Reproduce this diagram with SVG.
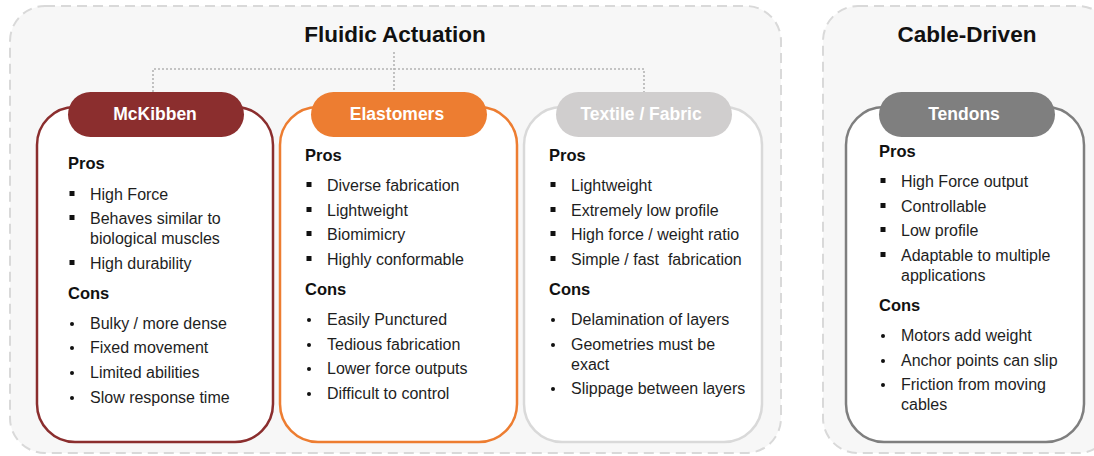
<svg xmlns="http://www.w3.org/2000/svg" width="1094" height="456" viewBox="0 0 1094 456">
  <style>
    .panel { fill: #f7f7f7; stroke: #d9d9d9; stroke-width: 2; stroke-dasharray: 10 6; }
    .title { font-family: "Liberation Sans", Arial, sans-serif; font-weight: bold; font-size: 22.5px; fill: #111; text-anchor: middle; }
    .card { fill: #ffffff; stroke-width: 2.5; }
    .pill-text { font-family: "Liberation Sans", Arial, sans-serif; font-weight: bold; font-size: 17.5px; fill: #ffffff; text-anchor: middle; }
    .head { font-family: "Liberation Sans", Arial, sans-serif; font-weight: bold; font-size: 16.5px; fill: #111; }
    .item { font-family: "Liberation Sans", Arial, sans-serif; font-size: 16px; fill: #1e1e1e; }
    .sq { fill: #111; }
    .dot { fill: #111; }
    .link { fill: none; stroke: #b4b4b4; stroke-width: 1.6; stroke-dasharray: 2 2; }
  </style>

  <!-- group panels -->
  <g id="fluidic-actuation">
    <rect class="panel" x="10" y="6" width="771" height="447" rx="35"/>
    <text class="title" x="395" y="42">Fluidic Actuation</text>
  </g>
  <g id="cable-driven">
    <rect class="panel" x="823" y="6" width="290" height="447" rx="35"/>
    <text class="title" x="967" y="42">Cable-Driven</text>
  </g>

  <!-- connectors -->
  <g id="connectors">
    <path class="link" d="M394 52 V92"/>
    <path class="link" d="M153 92 V69 H644 V92"/>
  </g>

  <!-- McKibben -->
  <g id="mckibben">
    <rect class="card" x="37" y="107" width="236" height="335" rx="38" stroke="#8b2e2e"/>
    <rect x="68" y="92" width="176" height="45" rx="22.5" fill="#8b2e2e"/>
    <text class="pill-text" x="155" y="120">McKibben</text>
    <text class="head" x="68" y="169">Pros</text>
    <rect class="sq" x="69.5" y="191" width="5" height="5"/>
    <text class="item" x="90" y="200">High Force</text>
    <rect class="sq" x="69.5" y="215" width="5" height="5"/>
    <text class="item" x="90" y="224">Behaves similar to</text>
    <text class="item" x="90" y="244">biological muscles</text>
    <rect class="sq" x="69.5" y="260" width="5" height="5"/>
    <text class="item" x="90" y="269">High durability</text>
    <text class="head" x="68" y="299">Cons</text>
    <circle class="dot" cx="72" cy="324" r="2"/>
    <text class="item" x="90" y="329">Bulky / more dense</text>
    <circle class="dot" cx="72" cy="348" r="2"/>
    <text class="item" x="90" y="353">Fixed movement</text>
    <circle class="dot" cx="72" cy="373" r="2"/>
    <text class="item" x="90" y="378">Limited abilities</text>
    <circle class="dot" cx="72" cy="398" r="2"/>
    <text class="item" x="90" y="403">Slow response time</text>
  </g>

  <!-- Elastomers -->
  <g id="elastomers">
    <rect class="card" x="280" y="107" width="237" height="335" rx="38" stroke="#ed7d31"/>
    <rect x="311" y="92" width="176" height="45" rx="22.5" fill="#ed7d31"/>
    <text class="pill-text" x="397" y="120">Elastomers</text>
    <text class="head" x="305" y="161">Pros</text>
    <rect class="sq" x="306.5" y="182" width="5" height="5"/>
    <text class="item" x="327" y="191">Diverse fabrication</text>
    <rect class="sq" x="306.5" y="207" width="5" height="5"/>
    <text class="item" x="327" y="216">Lightweight</text>
    <rect class="sq" x="306.5" y="231" width="5" height="5"/>
    <text class="item" x="327" y="240">Biomimicry</text>
    <rect class="sq" x="306.5" y="256" width="5" height="5"/>
    <text class="item" x="327" y="265">Highly conformable</text>
    <text class="head" x="305" y="295">Cons</text>
    <circle class="dot" cx="309" cy="320" r="2"/>
    <text class="item" x="327" y="325">Easily Punctured</text>
    <circle class="dot" cx="309" cy="345" r="2"/>
    <text class="item" x="327" y="350">Tedious fabrication</text>
    <circle class="dot" cx="309" cy="369" r="2"/>
    <text class="item" x="327" y="374">Lower force outputs</text>
    <circle class="dot" cx="309" cy="394" r="2"/>
    <text class="item" x="327" y="399">Difficult to control</text>
  </g>

  <!-- Textile / Fabric -->
  <g id="textile-fabric">
    <rect class="card" x="524" y="107" width="238" height="335" rx="38" stroke="#d9d9d9"/>
    <rect x="556" y="92" width="176" height="45" rx="22.5" fill="#d0cece"/>
    <text class="pill-text" x="641" y="120">Textile / Fabric</text>
    <text class="head" x="549" y="161">Pros</text>
    <rect class="sq" x="550.5" y="182" width="5" height="5"/>
    <text class="item" x="571" y="191">Lightweight</text>
    <rect class="sq" x="550.5" y="207" width="5" height="5"/>
    <text class="item" x="571" y="216">Extremely low profile</text>
    <rect class="sq" x="550.5" y="231" width="5" height="5"/>
    <text class="item" x="571" y="240">High force / weight ratio</text>
    <rect class="sq" x="550.5" y="256" width="5" height="5"/>
    <text class="item" x="571" y="265" xml:space="preserve">Simple / fast  fabrication</text>
    <text class="head" x="549" y="295">Cons</text>
    <circle class="dot" cx="553" cy="320" r="2"/>
    <text class="item" x="571" y="325">Delamination of layers</text>
    <circle class="dot" cx="553" cy="345" r="2"/>
    <text class="item" x="571" y="350">Geometries must be</text>
    <text class="item" x="571" y="370">exact</text>
    <circle class="dot" cx="553" cy="389" r="2"/>
    <text class="item" x="571" y="394">Slippage between layers</text>
  </g>

  <!-- Tendons -->
  <g id="tendons">
    <rect class="card" x="846" y="107" width="238" height="335" rx="38" stroke="#7f7f7f"/>
    <rect x="879" y="92" width="176" height="45" rx="22.5" fill="#7f7f7f"/>
    <text class="pill-text" x="964" y="120">Tendons</text>
    <text class="head" x="879" y="157">Pros</text>
    <rect class="sq" x="880.5" y="178" width="5" height="5"/>
    <text class="item" x="901" y="187">High Force output</text>
    <rect class="sq" x="880.5" y="203" width="5" height="5"/>
    <text class="item" x="901" y="212">Controllable</text>
    <rect class="sq" x="880.5" y="227" width="5" height="5"/>
    <text class="item" x="901" y="236">Low profile</text>
    <rect class="sq" x="880.5" y="252" width="5" height="5"/>
    <text class="item" x="901" y="261">Adaptable to multiple</text>
    <text class="item" x="901" y="281">applications</text>
    <text class="head" x="879" y="311">Cons</text>
    <circle class="dot" cx="883" cy="336" r="2"/>
    <text class="item" x="901" y="341">Motors add weight</text>
    <circle class="dot" cx="883" cy="361" r="2"/>
    <text class="item" x="901" y="366">Anchor points can slip</text>
    <circle class="dot" cx="883" cy="385" r="2"/>
    <text class="item" x="901" y="390">Friction from moving</text>
    <text class="item" x="901" y="410">cables</text>
  </g>
</svg>
